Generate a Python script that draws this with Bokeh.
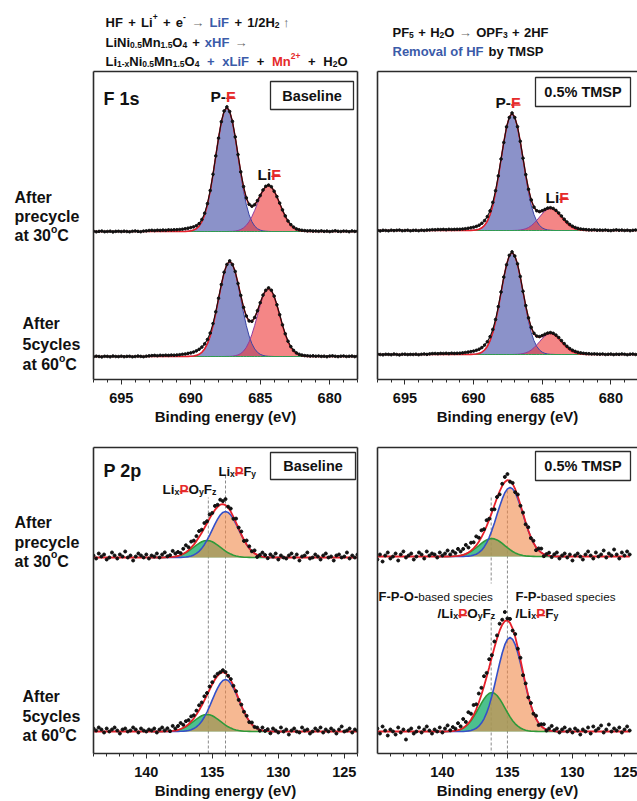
from bokeh.plotting import figure
from bokeh.layouts import column, row
from bokeh.models import ColumnDataSource, Range1d, LinearAxis, FixedTicker, SingleIntervalTicker
from bokeh.core.properties import value, field
from bokeh.embed import file_html
from bokeh.resources import INLINE

FONT = "Liberation Sans"
K = "#111111"
BLUE_T = "#3B5BA9"
RED_T = "#E52A2A"
GRAY_T = "#6a6a6a"
FRAME = "#2b2b2b"

# ---------------- F 1s spectra (intensity above each trace's own baseline, a.u.) ----------------
f1s_energy = [697.0, 696.8, 696.6, 696.4, 696.2, 696.0, 695.8, 695.6, 695.4, 695.2,
              695.0, 694.8, 694.6, 694.4, 694.2, 694.0, 693.8, 693.6, 693.4, 693.2,
              693.0, 692.8, 692.6, 692.4, 692.2, 692.0, 691.8, 691.6, 691.4, 691.2,
              691.0, 690.8, 690.6, 690.4, 690.2, 690.0, 689.8, 689.6, 689.4, 689.2,
              689.0, 688.8, 688.6, 688.4, 688.2, 688.0, 687.8, 687.6, 687.4, 687.2,
              687.0, 686.8, 686.6, 686.4, 686.2, 686.0, 685.8, 685.6, 685.4, 685.2,
              685.0, 684.8, 684.6, 684.4, 684.2, 684.0, 683.8, 683.6, 683.4, 683.2,
              683.0, 682.8, 682.6, 682.4, 682.2, 682.0, 681.8, 681.6, 681.4, 681.2,
              681.0, 680.8, 680.6, 680.4, 680.2, 680.0, 679.8, 679.6, 679.4, 679.2,
              679.0, 678.8, 678.6, 678.4, 678.2, 678.0]
f1s_fit_energy = [691.0, 690.8, 690.6, 690.4, 690.2, 690.0, 689.8, 689.6, 689.4, 689.2,
                  689.0, 688.8, 688.6, 688.4, 688.2, 688.0, 687.8, 687.6, 687.4, 687.2,
                  687.0, 686.8, 686.6, 686.4, 686.2, 686.0, 685.8, 685.6, 685.4, 685.2,
                  685.0, 684.8, 684.6, 684.4, 684.2, 684.0, 683.8, 683.6, 683.4, 683.2,
                  683.0, 682.8, 682.6, 682.4, 682.2, 682.0, 681.8, 681.6, 681.4, 681.2,
                  681.0]

# Baseline electrolyte, after precycle at 30 C
base_pre_f1s = [0.2, -0.3, 0.1, 0.4, -0.2, 0.0, 0.3, -0.4, 0.1, 0.2,
                -0.1, 0.3, 0.0, -0.3, 0.2, 0.5, 0.1, -0.2, 0.4, 0.6,
                1.0, 1.2, 0.9, 1.3, 1.1, 1.4, 1.2, 1.6, 1.5, 1.7,
                1.8, 2.0, 2.3, 2.8, 3.3, 3.9, 4.6, 5.8, 7.9, 12.0,
                18.3, 27.9, 41.0, 57.2, 75.6, 93.4, 109.8, 120.5, 124.6, 120.0,
                110.1, 94.6, 76.9, 59.6, 44.9, 33.6, 27.2, 25.3, 26.8, 30.9,
                36.0, 41.5, 45.2, 46.4, 44.8, 40.3, 34.9, 28.4, 21.6, 15.6,
                10.5, 6.9, 4.4, 2.6, 1.7, 1.2, 0.9, 0.6, 0.8, 0.4,
                0.5, 0.2, 0.6, 0.1, 0.4, -0.1, 0.3, 0.7, 0.2, 0.0,
                0.4, 0.3, -0.2, 0.5, 0.1, 0.3]
base_pre_pf = [0, 0, 0, 0.1, 0.3, 0.6, 1.4, 2.8, 5.4, 9.9,
               16.7, 26.8, 40.3, 56.8, 75.3, 93.6, 109.4, 120.2, 124, 120.2,
               109.4, 93.6, 75.3, 56.8, 40.3, 26.8, 16.7, 9.9, 5.4, 2.8,
               1.4, 0.6, 0.3, 0.1, 0, 0, 0, 0, 0, 0,
               0, 0, 0, 0, 0, 0, 0, 0, 0, 0, 0]
base_pre_lif = [0, 0, 0, 0, 0, 0, 0, 0, 0, 0,
                0, 0, 0, 0, 0, 0, 0, 0, 0, 0.1,
                0.2, 0.5, 1.0, 2.0, 3.7, 6.2, 9.9, 15.0, 21.1, 27.9,
                34.7, 40.6, 44.6, 46, 44.6, 40.6, 34.7, 27.9, 21.1, 15.0,
                9.9, 6.2, 3.7, 2.0, 1.0, 0.5, 0.2, 0.1, 0, 0, 0]

# Baseline electrolyte, after 5 cycles at 60 C
base_cyc_f1s = [-0.2, 0.3, 0.0, -0.4, 0.2, 0.1, -0.3, 0.4, 0.0, -0.1,
                0.3, -0.2, 0.1, 0.2, -0.3, 0.0, 0.4, 0.1, -0.2, 0.3,
                0.6, 0.9, 1.1, 0.8, 1.2, 1.0, 1.3, 1.1, 1.4, 1.3,
                1.5, 1.8, 2.2, 2.5, 3.1, 3.6, 4.4, 5.6, 7.2, 9.4,
                12.6, 17.0, 23.5, 32.9, 44.7, 58.3, 72.0, 84.3, 92.0, 95.6,
                92.0, 85.0, 73.0, 61.1, 49.2, 40.5, 35.6, 35.2, 39.0, 45.8,
                53.8, 61.4, 66.2, 68.6, 66.3, 60.4, 51.7, 41.8, 31.6, 22.7,
                15.3, 9.9, 6.1, 3.6, 2.2, 1.4, 0.9, 0.7, 0.4, 0.6,
                0.3, 0.5, 0.1, 0.3, -0.2, 0.4, 0.6, 0.2, -0.1, 0.3,
                0.5, 0.0, 0.2, 0.4, -0.1, 0.3]
base_cyc_pf = [0, 0, 0, 0, 0.1, 0.2, 0.5, 1.1, 2.2, 4.2,
               7.6, 12.8, 20.5, 30.9, 43.5, 57.7, 71.7, 83.8, 92.1, 95,
               92.1, 83.8, 71.7, 57.7, 43.5, 30.9, 20.5, 12.8, 7.6, 4.2,
               2.2, 1.1, 0.5, 0.2, 0.1, 0, 0, 0, 0, 0,
               0, 0, 0, 0, 0, 0, 0, 0, 0, 0, 0]
base_cyc_lif = [0, 0, 0, 0, 0, 0, 0, 0, 0, 0,
                0, 0, 0, 0, 0, 0, 0, 0, 0.1, 0.1,
                0.3, 0.8, 1.6, 3.0, 5.4, 9.2, 14.7, 22.1, 31.1, 41.3,
                51.3, 60.0, 65.9, 68, 65.9, 60.0, 51.3, 41.3, 31.1, 22.1,
                14.7, 9.2, 5.4, 3.0, 1.6, 0.8, 0.3, 0.1, 0.1, 0, 0]

# 0.5% TMSP, after precycle at 30 C
tmsp_pre_f1s = [0.1, -0.4, 0.2, 0.0, -0.3, 0.3, -0.1, 0.2, 0.4, -0.2,
                0.0, 0.3, -0.3, 0.1, 0.2, -0.2, 0.3, 0.0, 0.4, 0.5,
                0.8, 0.7, 1.0, 0.9, 1.1, 0.8, 1.2, 1.0, 1.1, 1.2,
                1.2, 1.5, 1.8, 2.2, 2.7, 3.3, 4.1, 5.3, 7.2, 9.9,
                13.9, 19.6, 28.1, 39.8, 54.6, 71.5, 88.0, 103.6, 113.0, 117.5,
                113.0, 103.8, 89.2, 72.3, 55.9, 41.3, 30.6, 23.4, 19.8, 18.9,
                19.8, 21.1, 22.4, 22.8, 22.0, 20.1, 17.5, 14.5, 11.3, 8.5,
                6.1, 4.3, 3.0, 2.1, 1.5, 1.1, 0.9, 0.6, 0.5, 0.7,
                0.3, 0.4, 0.2, 0.5, 0.1, -0.1, 0.3, 0.6, 0.2, 0.4,
                0.0, 0.3, -0.2, 0.2, 0.5, 0.1]
tmsp_pre_pf = [0, 0, 0, 0, 0.1, 0.3, 0.6, 1.3, 2.7, 5.1,
               9.3, 15.8, 25.3, 38.0, 53.6, 71.0, 88.3, 103.2, 113.4, 117,
               113.4, 103.2, 88.3, 71.0, 53.6, 38.0, 25.3, 15.8, 9.3, 5.1,
               2.7, 1.3, 0.6, 0.3, 0.1, 0, 0, 0, 0, 0,
               0, 0, 0, 0, 0, 0, 0, 0, 0, 0, 0]
tmsp_pre_lif = [0, 0, 0, 0, 0, 0, 0, 0, 0, 0,
                0, 0, 0, 0, 0, 0, 0, 0, 0, 0,
                0.1, 0.2, 0.5, 1.0, 1.8, 3.0, 4.8, 7.2, 10.1, 13.4,
                16.6, 19.4, 21.3, 22, 21.3, 19.4, 16.6, 13.4, 10.1, 7.2,
                4.8, 3.0, 1.8, 1.0, 0.5, 0.2, 0.1, 0, 0, 0, 0]

# 0.5% TMSP, after 5 cycles at 60 C
tmsp_cyc_f1s = [0.3, 0.0, -0.3, 0.2, 0.1, -0.2, 0.4, 0.0, -0.4, 0.2,
                0.3, -0.1, 0.1, 0.0, 0.3, -0.2, 0.2, 0.5, 0.1, 0.6,
                0.9, 1.0, 0.8, 1.1, 1.0, 1.2, 0.9, 1.3, 1.1, 1.2,
                1.3, 1.6, 2.0, 2.4, 2.9, 3.4, 4.2, 5.3, 6.9, 9.4,
                12.8, 17.8, 25.0, 35.0, 47.9, 62.5, 77.4, 89.7, 99.2, 102.6,
                98.5, 90.6, 78.0, 63.2, 48.9, 36.6, 27.1, 21.2, 18.4, 17.9,
                18.9, 20.3, 21.4, 21.9, 21.2, 19.4, 17.0, 13.9, 10.9, 8.2,
                6.0, 4.3, 3.1, 2.2, 1.6, 1.2, 0.9, 0.8, 0.5, 0.6,
                0.4, 0.3, 0.5, 0.0, 0.2, 0.4, -0.1, 0.3, 0.1, 0.5,
                0.2, -0.2, 0.3, 0.4, 0.0, 0.2]
tmsp_cyc_pf = [0, 0, 0, 0, 0.1, 0.2, 0.5, 1.1, 2.3, 4.5,
               8.1, 13.8, 22.0, 33.2, 46.7, 61.9, 77.0, 90.0, 98.8, 102,
               98.8, 90.0, 77.0, 61.9, 46.7, 33.2, 22.0, 13.8, 8.1, 4.5,
               2.3, 1.1, 0.5, 0.2, 0.1, 0, 0, 0, 0, 0,
               0, 0, 0, 0, 0, 0, 0, 0, 0, 0, 0]
tmsp_cyc_lif = [0, 0, 0, 0, 0, 0, 0, 0, 0, 0,
                0, 0, 0, 0, 0, 0, 0, 0, 0, 0,
                0.1, 0.2, 0.5, 0.9, 1.7, 2.8, 4.5, 6.8, 9.6, 12.7,
                15.9, 18.5, 20.3, 21, 20.3, 18.5, 15.9, 12.7, 9.6, 6.8,
                4.5, 2.8, 1.7, 0.9, 0.5, 0.2, 0.1, 0, 0, 0, 0]

# ---------------- P 2p spectra ----------------
base_p2p_energy = [144.0, 143.8, 143.6, 143.4, 143.2, 143.0, 142.8, 142.6, 142.4, 142.2,
                   142.0, 141.8, 141.6, 141.4, 141.2, 141.0, 140.8, 140.6, 140.4, 140.2,
                   140.0, 139.8, 139.6, 139.4, 139.2, 139.0, 138.8, 138.6, 138.4, 138.2,
                   138.0, 137.8, 137.6, 137.4, 137.2, 137.0, 136.8, 136.6, 136.4, 136.2,
                   136.0, 135.8, 135.6, 135.4, 135.2, 135.0, 134.8, 134.6, 134.4, 134.2,
                   134.0, 133.8, 133.6, 133.4, 133.2, 133.0, 132.8, 132.6, 132.4, 132.2,
                   132.0, 131.8, 131.6, 131.4, 131.2, 131.0, 130.8, 130.6, 130.4, 130.2,
                   130.0, 129.8, 129.6, 129.4, 129.2, 129.0, 128.8, 128.6, 128.4, 128.2,
                   128.0, 127.8, 127.6, 127.4, 127.2, 127.0, 126.8, 126.6, 126.4, 126.2,
                   126.0, 125.8, 125.6, 125.4, 125.2, 125.0, 124.8, 124.6, 124.4, 124.2,
                   124.0]
base_p2p_fit_energy = [139.6, 139.4, 139.2, 139.0, 138.8, 138.6, 138.4, 138.2, 138.0, 137.8,
                       137.6, 137.4, 137.2, 137.0, 136.8, 136.6, 136.4, 136.2, 136.0, 135.8,
                       135.6, 135.4, 135.2, 135.0, 134.8, 134.6, 134.4, 134.2, 134.0, 133.8,
                       133.6, 133.4, 133.2, 133.0, 132.8, 132.6, 132.4, 132.2, 132.0, 131.8,
                       131.6, 131.4, 131.2, 131.0, 130.8, 130.6, 130.4, 130.2, 130.0, 129.8,
                       129.6]
tmsp_p2p_energy = [145.0, 144.8, 144.6, 144.4, 144.2, 144.0, 143.8, 143.6, 143.4, 143.2,
                   143.0, 142.8, 142.6, 142.4, 142.2, 142.0, 141.8, 141.6, 141.4, 141.2,
                   141.0, 140.8, 140.6, 140.4, 140.2, 140.0, 139.8, 139.6, 139.4, 139.2,
                   139.0, 138.8, 138.6, 138.4, 138.2, 138.0, 137.8, 137.6, 137.4, 137.2,
                   137.0, 136.8, 136.6, 136.4, 136.2, 136.0, 135.8, 135.6, 135.4, 135.2,
                   135.0, 134.8, 134.6, 134.4, 134.2, 134.0, 133.8, 133.6, 133.4, 133.2,
                   133.0, 132.8, 132.6, 132.4, 132.2, 132.0, 131.8, 131.6, 131.4, 131.2,
                   131.0, 130.8, 130.6, 130.4, 130.2, 130.0, 129.8, 129.6, 129.4, 129.2,
                   129.0, 128.8, 128.6, 128.4, 128.2, 128.0, 127.8, 127.6, 127.4, 127.2,
                   127.0, 126.8, 126.6, 126.4, 126.2, 126.0, 125.8, 125.6]
tmsp_p2p_fit_energy = [140.6, 140.4, 140.2, 140.0, 139.8, 139.6, 139.4, 139.2, 139.0, 138.8,
                       138.6, 138.4, 138.2, 138.0, 137.8, 137.6, 137.4, 137.2, 137.0, 136.8,
                       136.6, 136.4, 136.2, 136.0, 135.8, 135.6, 135.4, 135.2, 135.0, 134.8,
                       134.6, 134.4, 134.2, 134.0, 133.8, 133.6, 133.4, 133.2, 133.0, 132.8,
                       132.6, 132.4, 132.2, 132.0, 131.8, 131.6, 131.4, 131.2, 131.0, 130.8,
                       130.6]

base_pre_p2p = [2, -1, 4, 1, 3, -2, 0, 5, 2, -1,
                3, 1, 6, 0, 2, -3, 1, 4, 2, 0,
                3, -1, 2, 1, 4, 0, 3, 5.1, 1.2, 2.3,
                6.6, 4.0, 5.5, 4.4, 8.7, 12.2, 10.3, 15.9, 16.9, 21.4,
                26.4, 27.8, 34.5, 36.3, 43.1, 44.6, 51.6, 52.7, 57.8, 56.4,
                58.4, 50.8, 48.9, 38.7, 38.9, 29.9, 26.0, 16.6, 17.0, 11.2,
                6.2, 7.1, 0.6, 2.6, 4.9, 2.5, -0.7, 3.1, 1, 4,
                -2, 2, 0, -1, 2, 4, 0, 3, -3, 1,
                2, 5, -1, 0, 3, 1, -2, 2, 4, 0,
                1, -3, 2, 3, 0, 1, 5, -1, 2, 0,
                3]
base_pre_lipf = [0, 0, 0, 0, 0, 0, 0, 0, 0, 0,
                 0, 0.1, 0.3, 0.5, 0.9, 1.6, 2.6, 4.1, 6.2, 9.1,
                 12.8, 17.3, 22.4, 27.9, 33.4, 38.4, 42.5, 45.1, 46, 45.1,
                 42.5, 38.4, 33.4, 27.9, 22.4, 17.3, 12.8, 9.1, 6.2, 4.1,
                 2.6, 1.6, 0.9, 0.5, 0.3, 0.1, 0, 0, 0, 0, 0]
base_pre_lipof = [0, 0, 0, 0, 0, 0.1, 0.2, 0.3, 0.6, 1.0,
                  1.5, 2.3, 3.4, 4.7, 6.4, 8.3, 10.3, 12.3, 14.2, 15.7,
                  16.7, 17, 16.7, 15.7, 14.2, 12.3, 10.3, 8.3, 6.4, 4.7,
                  3.4, 2.3, 1.5, 1.0, 0.6, 0.3, 0.2, 0.1, 0, 0,
                  0, 0, 0, 0, 0, 0, 0, 0, 0, 0, 0]

base_cyc_p2p = [3, 1, 4, 2, -1, 3, 0, 2, 4, 1,
                -2, 2, 3, 0, 1, 4, 2, -1, 3, 1,
                0, 2, 1, 3, -1, 2, 4, 1.1, 3.2, 0.3,
                5.6, 3.0, 5.5, 8.5, 6.7, 10.3, 11.4, 15.1, 16.2, 20.9,
                26.2, 29.0, 35.2, 38.5, 45.0, 49.3, 55.0, 57.7, 59.3, 61.3,
                59.4, 55.7, 52.4, 45.7, 40.3, 31.6, 26.9, 19.8, 15.7, 9.4,
                9.0, 4.6, 3.9, 0.8, 4.0, 0.6, 2.3, -1.8, 3, 1,
                -1, 4, 0, 2, -3, 1, 3, 0, -1, 4,
                1, 2, -2, 0, 3, 1, 4, -1, 2, 0,
                3, 1, -2, 2, 5, 0, 1, 3, -1, 2,
                1]
base_cyc_lipf = [0, 0, 0, 0, 0, 0, 0, 0, 0, 0,
                 0, 0.2, 0.3, 0.6, 1.0, 1.8, 2.9, 4.6, 7.0, 10.3,
                 14.5, 19.5, 25.3, 31.6, 37.8, 43.4, 48.0, 51.0, 52, 51.0,
                 48.0, 43.4, 37.8, 31.6, 25.3, 19.5, 14.5, 10.3, 7.0, 4.6,
                 2.9, 1.8, 1.0, 0.6, 0.3, 0.2, 0, 0, 0, 0, 0]
base_cyc_lipof = [0, 0, 0, 0, 0, 0.1, 0.2, 0.3, 0.6, 1.0,
                  1.5, 2.3, 3.4, 4.7, 6.4, 8.3, 10.3, 12.3, 14.2, 15.7,
                  16.7, 17, 16.7, 15.7, 14.2, 12.3, 10.3, 8.3, 6.4, 4.7,
                  3.4, 2.3, 1.5, 1.0, 0.6, 0.3, 0.2, 0.1, 0, 0,
                  0, 0, 0, 0, 0, 0, 0, 0, 0, 0, 0]

tmsp_pre_p2p = [-3, 2, -5, 1, 4, -2, 0, 3, -4, 2,
                5, -1, 1, 3, -3, 0, 4, 2, -2, 5,
                1, 3, 2, -1, 4, 1, 3, 6, 2.1, 5.2,
                3.4, 7.6, 5.0, 7.6, 11.6, 9.0, 13.8, 14.2, 20.1, 18.8,
                26.2, 27.3, 36.3, 37.8, 46.9, 47.2, 59.5, 62.1, 72.7, 79.6,
                82.4, 74.8, 73.6, 64.3, 62.0, 50.7, 43.9, 32.2, 29.3, 18.4,
                15.8, 6.3, 8.1, 7.9, 0.3, 2.4, 3.8, -0.6, 2.2, 4,
                -2, 1, 3, -1, 2, -4, 1, 3, 0, -3,
                2, 5, 1, -2, 4, 0, 2, 6, -1, 3,
                1, 7, 2, -2, 4, 1, 5, 2]
tmsp_pre_lipf = [0, 0, 0, 0, 0, 0, 0, 0, 0, 0,
                 0, 0, 0.2, 0.4, 0.8, 1.4, 2.3, 3.9, 6.1, 9.3,
                 13.7, 19.2, 25.9, 33.6, 41.9, 50.1, 57.6, 63.7, 67.6, 69,
                 67.6, 63.7, 57.6, 50.1, 41.9, 33.6, 25.9, 19.2, 13.7, 9.3,
                 6.1, 3.9, 2.3, 1.4, 0.8, 0.4, 0.2, 0, 0, 0, 0]
tmsp_pre_lipof = [0, 0, 0, 0, 0, 0, 0.1, 0.2, 0.4, 0.6,
                  1.0, 1.6, 2.4, 3.6, 5.0, 6.8, 8.8, 10.9, 13.1, 15.0,
                  16.6, 17.6, 18, 17.6, 16.6, 15.0, 13.1, 10.9, 8.8, 6.8,
                  5.0, 3.6, 2.4, 1.6, 1.0, 0.6, 0.4, 0.2, 0.1, 0,
                  0, 0, 0, 0, 0, 0, 0, 0, 0, 0, 0]

tmsp_cyc_p2p = [3, -2, 5, 1, -4, 2, 0, -3, 4, -1,
                2, -8, 1, 3, -2, 0, 4, -1, 2, 5,
                1, -2, 2, 0, 4, -1, 3, 6.1, 1.2, 4.4,
                2.8, 8.3, 5.2, 12.5, 9.6, 19.3, 17.8, 26.5, 27.2, 38.0,
                43.7, 55.3, 58.6, 72.3, 76.3, 90.0, 96.1, 107.8, 111.8, 119.5,
                113.1, 112.6, 100.9, 97.5, 82.8, 73.7, 56.3, 48.1, 34.1, 28.5,
                17.8, 15.8, 6.4, 7.3, 7.2, 0.9, 3.0, 5.6, 1.3, 3,
                -1, 2, 4, 0, 2, -1, 3, 1, -3, 2,
                0, 4, -2, 5, 1, 3, 6, -1, 2, 7,
                0, 3, 1, 4, -1, 2, 5, 1]
tmsp_cyc_lipf = [0, 0, 0, 0, 0, 0, 0, 0, 0, 0,
                 0, 0, 0.3, 0.6, 1.0, 1.9, 3.2, 5.3, 8.4, 12.7,
                 18.6, 26.1, 35.3, 45.8, 57.1, 68.2, 78.5, 86.8, 92.1, 94,
                 92.1, 86.8, 78.5, 68.2, 57.1, 45.8, 35.3, 26.1, 18.6, 12.7,
                 8.4, 5.3, 3.2, 1.9, 1.0, 0.6, 0.3, 0, 0, 0, 0]
tmsp_cyc_lipof = [0, 0, 0, 0, 0, 0.1, 0.2, 0.4, 0.8, 1.3,
                  2.2, 3.5, 5.3, 7.7, 10.8, 14.6, 19.0, 23.7, 28.3, 32.6,
                  36.0, 38.2, 39, 38.2, 36.0, 32.6, 28.3, 23.7, 19.0, 14.6,
                  10.8, 7.7, 5.3, 3.5, 2.2, 1.3, 0.8, 0.4, 0.2, 0.1,
                  0, 0, 0, 0, 0, 0, 0, 0, 0, 0, 0]

# reference energies of the two P 2p species (dashed guides)
base_p2p_guides = [135.3, 134.0]
tmsp_p2p_guides = [136.25, 135.0]

# ---------------- text metrics helpers ----------------
BOLD_W = {" ": 278, "%": 889, "(": 333, ")": 333, "+": 584, "-": 333, ".": 278, "/": 278,
          "A": 722, "B": 722, "C": 722, "E": 667, "F": 611, "H": 722, "L": 611, "M": 833,
          "N": 722, "O": 778, "P": 667, "R": 722, "S": 667, "T": 611, "V": 667,
          "a": 556, "b": 611, "c": 556, "d": 611, "e": 556, "f": 333, "g": 611, "i": 278,
          "l": 278, "m": 889, "n": 611, "o": 611, "p": 611, "r": 389, "s": 556, "t": 333,
          "v": 556, "x": 556, "y": 556, "z": 500, "\u2192": 1000, "\u2191": 500}
for _d in "0123456789":
    BOLD_W[_d] = 556
REG_W = {" ": 278, "-": 333, "a": 556, "b": 556, "c": 500, "d": 556, "e": 556, "i": 222,
         "p": 556, "s": 500, "\u2192": 1000, "\u2191": 500}

SCALE = {"n": 1.0, "sub": 0.65, "sup": 0.65, "sm": 0.9}
SHIFT = {"n": 0.0, "sub": 0.22, "sup": -0.40, "sm": 0.0}


def text_w(s, size, bold=True):
    tbl = BOLD_W if bold else REG_W
    return sum(tbl.get(ch, BOLD_W.get(ch, 600)) for ch in s) * size / 1000.0


def R(text, color=K, kind="n", gap=0, bold=True, ul=False):
    return (text, color, kind, gap, bold, ul)


def lay(runs, x_start, y_center, fs, x_end=None):
    sizes = [fs * SCALE[r[2]] for r in runs]
    widths = [text_w(r[0], s, r[4]) for r, s in zip(runs, sizes)]
    gaps = [r[3] * 0.278 * fs for r in runs]
    ngap = sum(1 for r in runs if r[3] > 0)
    extra = 0.0
    if x_end is not None and ngap:
        extra = (x_end - x_start - sum(widths) - sum(gaps)) / ngap
    base = y_center + 0.358 * fs
    x = x_start
    out = []
    for r, s, w, g in zip(runs, sizes, widths, gaps):
        if r[3] > 0:
            x += g + extra
        out.append(dict(x=x, y=base + SHIFT[r[2]] * fs, text=r[0], color=r[1], size=s,
                        bold=r[4], ul=r[5], w=w))
        x += w
    return out


def ident(v):
    return v


def draw_text(p, items, fx=ident, fy=ident):
    src = ColumnDataSource(dict(
        x=[fx(i["x"]) for i in items], y=[fy(i["y"]) for i in items],
        text=[i["text"] for i in items], color=[i["color"] for i in items],
        size=["%.1fpx" % i["size"] for i in items],
        style=["bold" if i["bold"] else "normal" for i in items]))
    p.text(x="x", y="y", text="text", source=src, text_color=field("color"),
           text_font_size=field("size"), text_font_style=field("style"),
           text_font=value(FONT), text_align="left", text_baseline="alphabetic")
    uls = [i for i in items if i["ul"]]
    if uls:
        p.segment(x0=[fx(i["x"]) for i in uls], y0=[fy(i["y"] + 2.3) for i in uls],
                  x1=[fx(i["x"] + i["w"]) for i in uls], y1=[fy(i["y"] + 2.3) for i in uls],
                  line_color=RED_T, line_width=1.4)


class Frame:
    def __init__(self, left, top, width, height, x0, x1):
        self.left, self.top, self.width, self.height = left, top, width, height
        self.x0, self.x1 = x0, x1

    def x(self, px):
        return self.x0 + (px - self.left) * (self.x1 - self.x0) / self.width

    def y(self, py):
        return self.top + self.height - py


def blank_axis(ax):
    ax.ticker = FixedTicker(ticks=[])
    ax.major_tick_out = 0
    ax.major_tick_in = 0
    ax.minor_tick_out = 0
    ax.minor_tick_in = 0
    ax.major_label_standoff = 0
    ax.axis_line_color = FRAME
    ax.axis_line_width = 1.6


def make_panel(F, fig_w, fig_h, mb_right, mb_top, mb_bottom, right_line, title_standoff):
    p = figure(width=fig_w, height=fig_h, x_range=Range1d(F.x0, F.x1), y_range=Range1d(0, F.height),
               output_backend="svg", toolbar_location=None,
               min_border_left=2, min_border_right=mb_right, min_border_top=mb_top,
               min_border_bottom=mb_bottom, background_fill_color="white", border_fill_color="white")
    p.outline_line_color = None
    p.xgrid.visible = False
    p.ygrid.visible = False
    xa = p.xaxis[0]
    xa.ticker = SingleIntervalTicker(interval=5, num_minor_ticks=5)
    xa.axis_label = "Binding energy (eV)"
    xa.axis_label_text_font = FONT
    xa.axis_label_text_font_style = "bold"
    xa.axis_label_text_font_size = "15px"
    xa.axis_label_text_color = K
    xa.axis_label_standoff = title_standoff
    xa.major_label_text_font = FONT
    xa.major_label_text_font_style = "bold"
    xa.major_label_text_font_size = "14.5px"
    xa.major_label_text_color = K
    xa.major_label_standoff = 8
    xa.major_tick_out = 5
    xa.major_tick_in = 0
    xa.minor_tick_out = 3
    xa.minor_tick_in = 0
    xa.axis_line_color = FRAME
    xa.axis_line_width = 1.6
    xa.major_tick_line_color = FRAME
    xa.minor_tick_line_color = FRAME
    blank_axis(p.yaxis[0])
    top = LinearAxis()
    blank_axis(top)
    p.add_layout(top, "above")
    if right_line:
        rt = LinearAxis()
        blank_axis(rt)
        p.add_layout(rt, "right")
    return p


def on_grid(grid, window, *comps):
    lookup = {round(e, 2): sum(c[i] for c in comps) for i, e in enumerate(window)}
    return [lookup.get(round(e, 2), 0.0) for e in grid]


def shift(vals, off):
    return [off + v for v in vals]


def draw_f1s(p, energy, data, window, pf, lif, off):
    env = on_grid(energy, window, pf, lif)
    base = [off for _ in window]
    p.varea(x=window, y1=base, y2=shift(pf, off), fill_color="#5A64B2", fill_alpha=0.7)
    p.varea(x=window, y1=base, y2=shift(lif, off), fill_color="#EE3B3B", fill_alpha=0.62)
    p.line(window, shift(pf, off), line_color="#3A45A5", line_width=1.0)
    p.line(window, shift(lif, off), line_color="#8E3C9E", line_width=1.0)
    p.line(window, base, line_color="#2E9E50", line_width=1.0)
    p.line(energy, shift(env, off), line_color="#E8202A", line_width=1.6)
    p.line(energy, shift(data, off), line_color=K, line_width=1.1)
    p.scatter(energy, shift(data, off), size=2.6, color=K)


def draw_p2p(p, energy, data, window, lipf, lipof, off):
    env = on_grid(energy, window, lipf, lipof)
    base = [off for _ in window]
    p.varea(x=window, y1=base, y2=shift(lipof, off), fill_color="#1AAE6E", fill_alpha=0.78)
    p.varea(x=window, y1=base, y2=shift(lipf, off), fill_color="#F0884A", fill_alpha=0.6)
    p.line(window, shift(lipof, off), line_color="#2F9A3A", line_width=1.6)
    p.line(window, shift(lipf, off), line_color="#3550C8", line_width=1.6)
    p.line(energy, shift(env, off), line_color="#E8202A", line_width=1.8)
    p.scatter(energy, shift(data, off), size=3.0, color=K)


def draw_box(p, F, box, label, fs=14.5):
    l, t, r, b = box
    p.quad(left=[F.x(l)], right=[F.x(r)], top=[F.y(t)], bottom=[F.y(b)],
           fill_color="white", line_color=FRAME, line_width=1.3)
    p.text(x=[F.x((l + r) / 2)], y=[F.y((t + b) / 2)], text=[label], text_align="center",
           text_baseline="middle", text_font=value(FONT), text_font_style="bold",
           text_font_size="%.1fpx" % fs, text_color=K)


# ---------------- frames (page pixel geometry) ----------------
TLF = Frame(93, 71, 264, 308, 697.0, 678.0)
TRF = Frame(377, 71, 260, 308, 697.0, 678.06)
BLF = Frame(93, 447, 264, 306, 144.0, 124.0)
BRF = Frame(377, 447, 260, 306, 144.99, 125.0)

# ---------------- header ----------------
header = figure(width=637, height=69, x_range=Range1d(0, 637), y_range=Range1d(69, 0),
                output_backend="svg", toolbar_location=None, x_axis_location=None,
                y_axis_location=None, min_border=0)
header.outline_line_color = None
header.grid.visible = False
hdr = []
hdr += lay([R("HF"), R("+", gap=1), R("Li", gap=1), R("+", kind="sup"), R("+", gap=1), R("e", gap=1),
            R("-", kind="sup"), R("\u2192", GRAY_T, gap=1, bold=False), R("LiF", BLUE_T, gap=1),
            R("+", gap=1), R("1/2H", gap=1), R("2", kind="sub"), R("\u2191", GRAY_T, gap=0.5, bold=False)],
           105, 17, 13, 289)
hdr += lay([R("LiNi"), R("0.5", kind="sub"), R("Mn"), R("1.5", kind="sub"), R("O"), R("4", kind="sub"),
            R("+", gap=1), R("xHF", BLUE_T, gap=1), R("\u2192", GRAY_T, gap=1, bold=False)],
           105, 37, 13, 247)
hdr += lay([R("Li"), R("1-x", kind="sub"), R("Ni"), R("0.5", kind="sub"), R("Mn"), R("1.5", kind="sub"),
            R("O"), R("4", kind="sub"), R("+", BLUE_T, gap=1), R("xLiF", BLUE_T, gap=1), R("+", gap=1),
            R("M", RED_T, gap=1), R("n", RED_T), R("2+", RED_T, kind="sup"), R("+", gap=1),
            R("H", gap=1), R("2", kind="sub"), R("O")],
           105, 56, 13, 347)
hdr += lay([R("PF"), R("5", kind="sub"), R("+", gap=1), R("H", gap=1), R("2", kind="sub"), R("O"),
            R("\u2192", GRAY_T, gap=1, bold=False), R("OPF", gap=1), R("3", kind="sub"), R("+", gap=1),
            R("2HF", gap=1)],
           392, 27, 13, 548)
hdr += lay([R("Removal of HF", BLUE_T), R("by TMSP", gap=1)], 392, 46, 13, 543)
draw_text(header, hdr)

# ---------------- row labels ----------------
labels = figure(width=91, height=732, x_range=Range1d(0, 91), y_range=Range1d(801, 69),
                output_backend="svg", toolbar_location=None, x_axis_location=None,
                y_axis_location=None, min_border=0)
labels.outline_line_color = None
labels.grid.visible = False
lab = []
for x0, ys, words in [(14, (191.7, 210.7, 229.3), ("After", "precycle", "30")),
                      (22, (317.7, 338.3, 358.3), ("After", "5cycles", "60")),
                      (14, (516.7, 536.0, 555.0), ("After", "precycle", "30")),
                      (22, (690.7, 710.0, 729.3), ("After", "5cycles", "60"))]:
    lab += lay([R(words[0])], x0, ys[0], 16)
    lab += lay([R(words[1])], x0, ys[1], 16)
    lab += lay([R("at " + words[2]), R("o", kind="sup"), R("C")], x0, ys[2], 16)
draw_text(labels, lab)

# ---------------- F 1s panels ----------------
p_tl = make_panel(TLF, 284, 371, 18, 2, 61, True, 2)
draw_f1s(p_tl, f1s_energy, base_pre_f1s, f1s_fit_energy, base_pre_pf, base_pre_lif, 148)
draw_f1s(p_tl, f1s_energy, base_cyc_f1s, f1s_fit_energy, base_cyc_pf, base_cyc_lif, 23)
t = []
t += lay([R("F 1s")], 103, 91.7, 18)
t += lay([R("P-"), R("F", RED_T, ul=True)], 210, 90, 15.5)
t += lay([R("Li"), R("F", RED_T, ul=True)], 257, 168, 15.5)
draw_text(p_tl, t, TLF.x, TLF.y)
draw_box(p_tl, TLF, (270, 81, 353, 109), "Baseline")

p_tr = make_panel(TRF, 262, 371, 0, 2, 61, False, 2)
draw_f1s(p_tr, f1s_energy, tmsp_pre_f1s, f1s_fit_energy, tmsp_pre_pf, tmsp_pre_lif, 149)
draw_f1s(p_tr, f1s_energy, tmsp_cyc_f1s, f1s_fit_energy, tmsp_cyc_pf, tmsp_cyc_lif, 25)
t = []
t += lay([R("P-"), R("F", RED_T, ul=True)], 495, 96.7, 15.5)
t += lay([R("Li"), R("F", RED_T, ul=True)], 545, 191, 15.5)
draw_text(p_tr, t, TRF.x, TRF.y)
draw_box(p_tr, TRF, (535, 77, 630, 106), "0.5% TMSP")

# ---------------- P 2p panels ----------------
p_bl = make_panel(BLF, 284, 361, 18, 7, 48, True, 2)
p_bl.segment(x0=base_p2p_guides, y0=[0, 0], x1=base_p2p_guides, y1=[BLF.y(497), BLF.y(475)],
             line_color="#8a8a8a", line_width=1.0, line_dash="3 2")
draw_p2p(p_bl, base_p2p_energy, base_pre_p2p, base_p2p_fit_energy, base_pre_lipf, base_pre_lipof, 196)
draw_p2p(p_bl, base_p2p_energy, base_cyc_p2p, base_p2p_fit_energy, base_cyc_lipf, base_cyc_lipof, 22)
t = []
t += lay([R("P 2p")], 103, 464, 18)
t += lay([R("Li"), R("x", kind="sub"), R("P", RED_T, ul=True), R("F"), R("y", kind="sub")], 218, 466, 13)
t += lay([R("Li"), R("x", kind="sub"), R("P", RED_T, ul=True), R("O"), R("y", kind="sub"), R("F"),
          R("z", kind="sub")], 162, 484, 13.5)
draw_text(p_bl, t, BLF.x, BLF.y)
draw_box(p_bl, BLF, (270, 452, 355, 479), "Baseline")

p_br = make_panel(BRF, 262, 361, 0, 7, 48, False, 2)
p_br.segment(x0=[tmsp_p2p_guides[0], tmsp_p2p_guides[0], tmsp_p2p_guides[1]],
             y0=[BRF.y(497), BRF.y(617), 0],
             x1=[tmsp_p2p_guides[0], tmsp_p2p_guides[0], tmsp_p2p_guides[1]],
             y1=[BRF.y(583), 0, BRF.y(490)],
             line_color="#8a8a8a", line_width=1.0, line_dash="3 2")
draw_p2p(p_br, tmsp_p2p_energy, tmsp_pre_p2p, tmsp_p2p_fit_energy, tmsp_pre_lipf, tmsp_pre_lipof, 197)
draw_p2p(p_br, tmsp_p2p_energy, tmsp_cyc_p2p, tmsp_p2p_fit_energy, tmsp_cyc_lipf, tmsp_cyc_lipof, 22)
t = []
t += lay([R("F-P-O-"), R("based species", kind="sm", bold=False)], 378, 591.7, 13)
t += lay([R("/Li"), R("x", kind="sub"), R("P", RED_T, ul=True), R("O"), R("y", kind="sub"), R("F"),
          R("z", kind="sub")], 437, 608, 13.5)
t += lay([R("F-P-"), R("based species", kind="sm", bold=False)], 515, 591.7, 13)
t += lay([R("/Li"), R("x", kind="sub"), R("P", RED_T, ul=True), R("F"), R("y", kind="sub")], 515, 608, 13.5)
draw_text(p_br, t, BRF.x, BRF.y)
draw_box(p_br, BRF, (535, 451, 630, 480), "0.5% TMSP")

layout = column(header, row(labels, column(p_tl, p_bl), column(p_tr, p_br)))

open("out.html", "w").write(file_html(layout, INLINE))
